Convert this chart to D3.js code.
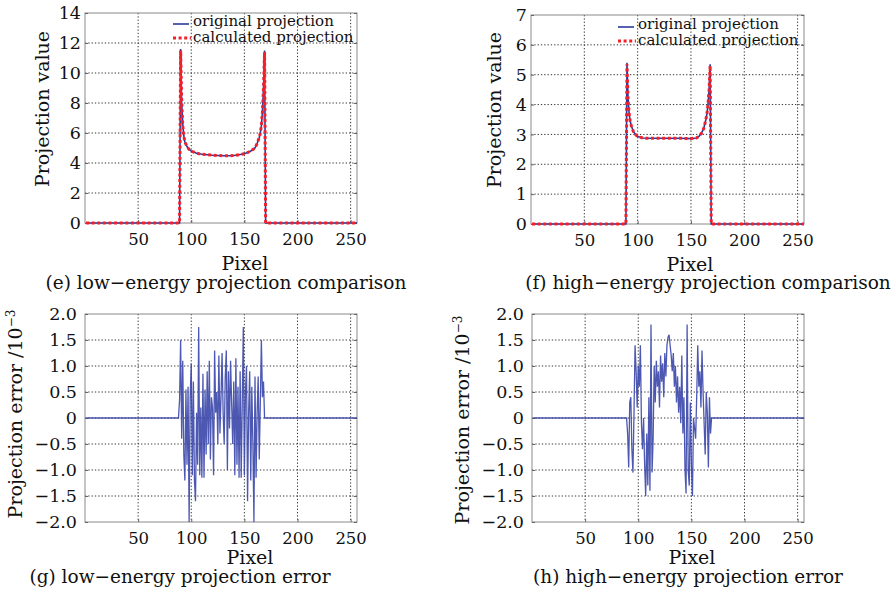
<!DOCTYPE html>
<html>
<head>
<meta charset="utf-8">
<script src="https://cdn.jsdelivr.net/npm/d3@7"></script>
<style>
  body { margin: 0; background: #fff; }
  text { font-family: "DejaVu Serif", "Liberation Serif", serif; fill: #111; }
</style>
</head>
<body>
<svg id="chart" width="896" height="589"></svg>
<script>
// pixel positions + projection values
let lowPix  = [1, 89, 90, 91, 92, 93, 94, 96, 98, 100, 105, 110, 115, 120, 125, 130, 135, 140, 145, 150, 153, 156, 158, 160, 162, 164, 165, 166, 167, 168, 169, 170, 256]
let lowOrig = [0, 0, 11.6, 8.0, 6.6, 5.8, 5.4, 5.1, 4.9, 4.8, 4.65, 4.58, 4.55, 4.52, 4.5, 4.48, 4.48, 4.5, 4.55, 4.62, 4.7, 4.8, 4.9, 5.0, 5.3, 5.7, 6.0, 6.5, 7.4, 9.0, 11.5, 0, 0]
let lowCalc = [0, 0, 11.5, 8.1, 6.5, 5.8, 5.4, 5.1, 4.9, 4.8, 4.65, 4.58, 4.55, 4.52, 4.5, 4.48, 4.48, 4.5, 4.55, 4.62, 4.7, 4.8, 4.9, 5.0, 5.3, 5.7, 6.0, 6.5, 7.4, 9.0, 11.4, 0, 0]

let highPix  = [1, 89, 90, 91, 92, 93, 94, 96, 98, 100, 105, 110, 120, 130, 140, 150, 155, 158, 160, 162, 164, 165, 166, 167, 168, 169, 256]
let highOrig = [0, 0, 5.4, 4.2, 3.7, 3.45, 3.3, 3.1, 3.0, 2.93, 2.88, 2.87, 2.87, 2.87, 2.87, 2.86, 2.88, 2.95, 3.05, 3.2, 3.5, 3.7, 4.0, 4.5, 5.35, 0, 0]
let highCalc = [0, 0, 5.35, 4.2, 3.7, 3.45, 3.3, 3.1, 3.0, 2.93, 2.88, 2.87, 2.87, 2.87, 2.87, 2.86, 2.88, 2.95, 3.05, 3.2, 3.5, 3.7, 4.0, 4.5, 5.3, 0, 0]

// projection error (x 10^-3), one value per pixel from the start index, zero elsewhere
let lowErrStart = 88
let lowErr = [0, 0.35, 1.5, -0.4, 1.1, -0.7, -1.2, 0.55, -0.9, 0.6,
  -2.0, 0.4, 1.05, -1.1, 0.7, -1.2, -1.6, 0.1, -0.9, 1.75,
  -1.1, 0.2, -1.15, 0.85, -1.15, 0.55, -0.7, 0.9, -0.5, 1.1,
  -0.8, 0.4, 0.2, -1.1, 1.3, 0.1, 0.5, -0.5, 1.2, -0.3,
  0.4, 1.25, 0.1, -0.5, 0.8, 1.3, -1.0, 0.9, -0.2, 1.1,
  0.3, -0.5, 0.7, -1.1, 1.15, -0.9, 0.6, -1.15, 0.9, -1.15,
  0.3, 1.75, -1.1, 0.5, 1.0, -1.6, 0.1, 0.9, -1.2, 0.6,
  -0.5, -2.0, 0.8, -1.15, 0.1, 0.8, -0.8, 0.3, 1.5, 0.4,
  0.7, 0]

let highErrStart = 89
let highErr = [0, -0.3, -0.95, 0.3, 0.4, -0.6, -1.05, 0.1, 1.4, 0.9,
  0.2, 1.0, 0.6, 1.4, -0.1, -0.6, 0.0, -0.9, -1.5, -0.3,
  -1.3, 0.4, -1.4, 1.8, -1.05, -0.4, 1.0, 0.3, 1.1, 0.6,
  0.9, 0.2, 1.2, 0.7, 1.05, 0.4, 1.25, 0.8, 1.4, 1.55,
  1.6, 1.4, 1.2, 0.9, 1.25, 0.6, 1.0, 0.3, 0.8, 0.1,
  0.6, -0.1, 1.2, -0.3, 0.4, -1.0, -1.45, 1.8, -1.0, -1.3,
  0.3, -0.9, -1.5, 0.0, -0.2, -0.4, 0.4, 1.4, 0.6, 0.9,
  0.2, 1.3, 0.5, -0.1, -0.7, 0.5, 0.1, -0.95, 0.4, -0.3,
  0]

let xTicks = [50, 100, 150, 200, 250]
let lowTicks = [0, 2, 4, 6, 8, 10, 12, 14]
let highTicks = [0, 1, 2, 3, 4, 5, 6, 7]
let errTicks = [2, 1.5, 1, 0.5, 0, -0.5, -1, -1.5, -2]
let errTickLabels = ["2.0", "1.5", "1.0", "0.5", "0", "\u22120.5", "\u22121.0", "\u22121.5", "\u22122.0"]

let legendLabels = ["original projection", "calculated projection"]
let captions = ["(e) low\u2212energy projection comparison", "(f) high\u2212energy projection comparison",
  "(g) low\u2212energy projection error", "(h) high\u2212energy projection error"]

let blue = "#2b3a9c"
let red = "#f2202a"

let svg = d3.select("#chart")

function errSeries(start, vals) {
  let pts = [{ x: 1, y: 0 }]
  vals.forEach((v, i) => pts.push({ x: start + i, y: v }))
  pts.push({ x: 256, y: 0 })
  return pts
}

function zipPts(px, vals) {
  return px.map((p, i) => ({ x: p, y: vals[i] }))
}

function panel(opt) {
  let g = svg.append("g").attr("transform", `translate(${opt.left},${opt.top})`)

  let x = d3.scaleLinear().domain([0, 256]).range([0, opt.w])
  let y = d3.scaleLinear().domain(opt.yDomain).range([opt.h, 0])

  // dotted grid
  g.append("g").selectAll("line")
    .data(xTicks)
    .join("line")
    .attr("x1", d => x(d)).attr("x2", d => x(d))
    .attr("y1", 0).attr("y2", opt.h)
    .style("stroke", "#333").style("stroke-width", 1)
    .style("stroke-dasharray", "1.3,2")

  g.append("g").selectAll("line")
    .data(opt.yTicks.filter(d => d != opt.yDomain[0] && d != opt.yDomain[1]))
    .join("line")
    .attr("x1", 0).attr("x2", opt.w)
    .attr("y1", d => y(d)).attr("y2", d => y(d))
    .style("stroke", "#333").style("stroke-width", 1)
    .style("stroke-dasharray", "1.3,2")

  // frame
  g.append("rect")
    .attr("width", opt.w).attr("height", opt.h)
    .style("fill", "none").style("stroke", "#8a8a8a").style("stroke-width", 1)

  // axes with short inward ticks
  let xAxis = g.append("g")
    .attr("transform", `translate(0,${opt.h})`)
    .call(d3.axisBottom(x).tickValues(xTicks).tickSizeInner(-3).tickSizeOuter(0).tickPadding(10))
  xAxis.select(".domain").remove()
  xAxis.selectAll("line").style("stroke", "#666")
  xAxis.selectAll("text").style("font-size", "16.5px").style("font-family", "DejaVu Serif").style("fill", "#111")

  let yAxis = g.append("g")
    .call(d3.axisLeft(y).tickValues(opt.yTicks).tickFormat((d, i) => opt.yLabels ? opt.yLabels[i] : d)
      .tickSizeInner(-3).tickSizeOuter(0).tickPadding(opt.pad))
  yAxis.select(".domain").remove()
  yAxis.selectAll("line").style("stroke", "#666")
  yAxis.selectAll("text").style("font-size", "17.5px").style("font-family", "DejaVu Serif").style("fill", "#111")

  g.append("g").attr("transform", `translate(${opt.w},0)`)
    .call(d3.axisRight(y).tickValues(opt.yTicks).tickSizeInner(-3).tickSizeOuter(0).tickFormat(""))
    .call(a => a.select(".domain").remove())
    .selectAll("line").style("stroke", "#666")

  let line = d3.line().x(d => x(d.x)).y(d => y(d.y))

  opt.series.forEach(s => {
    g.append("path")
      .attr("d", line(s.pts))
      .style("fill", "none")
      .style("stroke", s.color)
      .style("stroke-width", s.width)
      .style("stroke-dasharray", s.dash || null)
      .style("opacity", s.opacity || 1)
  })
}

// (e)
panel({
  left: 85, top: 13, w: 272, h: 210, yDomain: [0, 14], yTicks: lowTicks, pad: 4,
  series: [
    { pts: zipPts(lowPix, lowOrig), color: blue, width: 1.6 },
    { pts: zipPts(lowPix, lowCalc), color: red, width: 3, dash: "3,2.6" }
  ]
})

// (f)
panel({
  left: 531, top: 15, w: 273, h: 209, yDomain: [0, 7], yTicks: highTicks, pad: 4,
  series: [
    { pts: zipPts(highPix, highOrig), color: blue, width: 1.6 },
    { pts: zipPts(highPix, highCalc), color: red, width: 3, dash: "3,2.6" }
  ]
})

// (g)
panel({
  left: 85, top: 314, w: 272, h: 208, yDomain: [-2, 2], yTicks: errTicks, yLabels: errTickLabels, pad: 8,
  series: [{ pts: errSeries(lowErrStart, lowErr), color: "#3a46aa", width: 1.3, opacity: 0.9 }]
})

// (h)
panel({
  left: 532, top: 314, w: 272, h: 208, yDomain: [-2, 2], yTicks: errTicks, yLabels: errTickLabels, pad: 8,
  series: [{ pts: errSeries(highErrStart, highErr), color: "#3a46aa", width: 1.3, opacity: 0.9 }]
})

// legends
let legendPos = [{ x: 173, y: 26 }, { x: 618, y: 29 }]
legendPos.forEach(p => {
  svg.append("line")
    .attr("x1", p.x).attr("x2", p.x + 16).attr("y1", p.y - 2).attr("y2", p.y - 2)
    .style("stroke", blue).style("stroke-width", 1.6)
  svg.append("line")
    .attr("x1", p.x).attr("x2", p.x + 18).attr("y1", p.y + 12).attr("y2", p.y + 12)
    .style("stroke", red).style("stroke-width", 3).style("stroke-dasharray", "3,2.6")
  svg.append("text")
    .attr("x", p.x + 20).attr("y", p.y)
    .style("font-size", "15px")
    .text(legendLabels[0])
  svg.append("text")
    .attr("x", p.x + 20).attr("y", p.y + 16)
    .style("font-size", "15px")
    .text(legendLabels[1])
})

// x axis titles
let pixelPos = [{ x: 245, y: 270 }, { x: 690, y: 271 }, { x: 250, y: 564 }, { x: 692, y: 564 }]
pixelPos.forEach(p => {
  svg.append("text")
    .attr("x", p.x).attr("y", p.y)
    .attr("text-anchor", "middle")
    .style("font-size", "19px")
    .text("Pixel")
})

// captions
let capPos = [{ x: 226, y: 289 }, { x: 708, y: 289 }, { x: 180, y: 583 }, { x: 688, y: 583 }]
capPos.forEach((p, i) => {
  svg.append("text")
    .attr("x", p.x).attr("y", p.y)
    .attr("text-anchor", "middle")
    .style("font-size", "18.5px")
    .text(captions[i])
})

// y axis titles
let valuePos = [{ x: 49, y: 109 }, { x: 501, y: 110 }]
valuePos.forEach(p => {
  svg.append("text")
    .attr("transform", `translate(${p.x},${p.y}) rotate(-90)`)
    .attr("text-anchor", "middle")
    .style("font-size", "19px")
    .text("Projection value")
})

let errPos = [{ x: 22, y: 414 }, { x: 469, y: 420 }]
errPos.forEach(p => {
  let t = svg.append("text")
    .attr("transform", `translate(${p.x},${p.y}) rotate(-90)`)
    .attr("text-anchor", "middle")
    .style("font-size", "19px")
  t.append("tspan").text("Projection error /10")
  t.append("tspan").attr("dy", -7).style("font-size", "12px").text("\u22123")
})
</script>
</body>
</html>
